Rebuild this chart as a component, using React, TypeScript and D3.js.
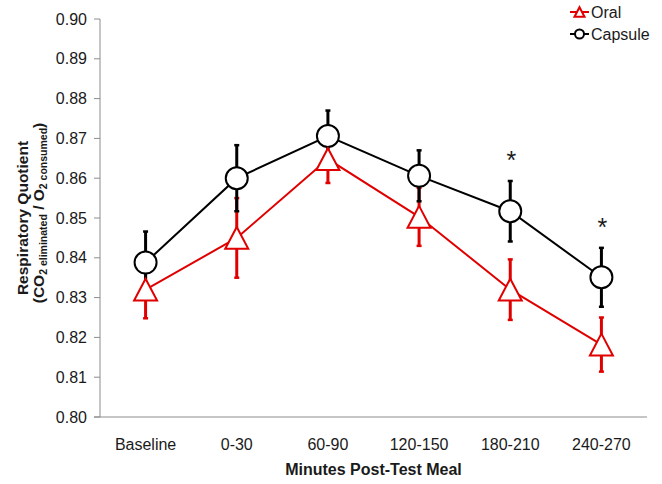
import React from "react";
import * as d3 from "d3";

const categories = ["Baseline", "0-30", "60-90", "120-150", "180-210", "240-270"];
const capsuleValues = [0.8388, 0.8600, 0.8706, 0.8606, 0.8517, 0.8351];
const capsuleErrors = [0.0078, 0.0083, 0.0064, 0.0064, 0.0076, 0.0074];
const oralValues = [0.8320, 0.8450, 0.8648, 0.8503, 0.8320, 0.8182];
const oralErrors = [0.0072, 0.0100, 0.0060, 0.0073, 0.0076, 0.0068];
const significant = [false, false, false, false, true, true];
const yTicks = [0.8, 0.81, 0.82, 0.83, 0.84, 0.85, 0.86, 0.87, 0.88, 0.89, 0.9];

const W = 662, H = 484;
const left = 100, right = 647, top = 19, bottom = 417;
const FONT = "Liberation Sans, Arial, sans-serif";
const TXT = "#1a1a1a";

export default function App() {
  const x = d3.scaleBand<string>().domain(categories).range([left, right]);
  const cx = (c: string) => (x(c) as number) + x.bandwidth() / 2;
  const y = d3.scaleLinear().domain([0.8, 0.9]).range([bottom, top]);
  const line = d3.line<number>().x((_, i) => cx(categories[i])).y((v) => y(v));
  const midY = (top + bottom) / 2;

  const triPath = (px: number, py: number, s: number) =>
    `M${px},${py - s * 0.95}L${px + s},${py + s * 0.95}L${px - s},${py + s * 0.95}Z`;

  const errBar = (px: number, v: number, e: number, color: string, key: string) => (
    <g key={key} stroke={color}>
      <line x1={px} x2={px} y1={y(v + e)} y2={y(v - e)} strokeWidth={3} />
      <line x1={px - 2.5} x2={px + 2.5} y1={y(v + e)} y2={y(v + e)} strokeWidth={2.5} />
      <line x1={px - 2.5} x2={px + 2.5} y1={y(v - e)} y2={y(v - e)} strokeWidth={2.5} />
    </g>
  );

  return (
    <svg width={W} height={H} style={{ position: "absolute", left: 0, top: 0, background: "#fff" }} fontFamily={FONT}>
      <rect width={W} height={H} fill="#fff" />
      {/* axes */}
      <line x1={left} x2={left} y1={top} y2={bottom} stroke="#8c8c8c" strokeWidth={1} />
      <line x1={94} x2={right} y1={bottom} y2={bottom} stroke="#8c8c8c" strokeWidth={1} />
      {yTicks.map((t) => (
        <g key={t}>
          <line x1={94} x2={left} y1={y(t)} y2={y(t)} stroke="#8c8c8c" />
          <text x={87} y={y(t)} dy="0.35em" textAnchor="end" fontSize={16} fill={TXT}>
            {d3.format(".2f")(t)}
          </text>
        </g>
      ))}
      {categories.map((c) => (
        <text key={c} x={cx(c)} y={450} textAnchor="middle" fontSize={16} fill={TXT}>{c}</text>
      ))}
      <text x={(left + right) / 2} y={475} textAnchor="middle" fontSize={16} fontWeight="bold" fill={TXT}>
        Minutes Post-Test Meal
      </text>
      <text transform={`translate(28,${midY}) rotate(-90)`} textAnchor="middle" fontSize={15.5} fontWeight="bold" fill={TXT}>
        Respiratory Quotient
      </text>
      <text transform={`translate(44,${midY - 5}) rotate(-90)`} textAnchor="middle" fontSize={15.5} fontWeight="bold" fill={TXT}>
        (CO<tspan fontSize={10.5} dy={3}>2 eliminated</tspan><tspan dy={-3}> / O</tspan><tspan fontSize={10.5} dy={3}>2 consumed</tspan><tspan dy={-3}>)</tspan>
      </text>

      {/* error bars: oral first, then capsule */}
      {oralValues.map((v, i) => errBar(cx(categories[i]), v, oralErrors[i], "#e00000", "oe" + i))}
      {capsuleValues.map((v, i) => errBar(cx(categories[i]), v, capsuleErrors[i], "#000", "ce" + i))}

      {/* Capsule series */}
      <path d={line(capsuleValues) || ""} fill="none" stroke="#000" strokeWidth={2} />
      {capsuleValues.map((v, i) => (
        <circle key={"cm" + i} cx={cx(categories[i])} cy={y(v)} r={11} fill="#fff" stroke="#000" strokeWidth={2} />
      ))}
      {capsuleValues.map((v, i) =>
        significant[i] ? (
          <text key={"s" + i} x={cx(categories[i]) + 1} y={y(v + capsuleErrors[i]) - 12} textAnchor="middle" fontSize={25} fill={TXT}>*</text>
        ) : null
      )}

      {/* Oral series */}
      <path d={line(oralValues) || ""} fill="none" stroke="#e00000" strokeWidth={2} />
      {oralValues.map((v, i) => (
        <path key={"om" + i} d={triPath(cx(categories[i]), y(v), 11.5)} fill="#fff" stroke="#e00000" strokeWidth={2} />
      ))}

      {/* legend */}
      <line x1={570} x2={589} y1={12} y2={12} stroke="#e00000" strokeWidth={2} />
      <path d={triPath(579.5, 12, 5)} fill="#fff" stroke="#e00000" strokeWidth={2} />
      <text x={591} y={12} dy="0.35em" fontSize={16} fill={TXT}>Oral</text>
      <line x1={570} x2={589} y1={34} y2={34} stroke="#000" strokeWidth={2} />
      <circle cx={579.5} cy={34} r={4.5} fill="#fff" stroke="#000" strokeWidth={2} />
      <text x={591} y={34} dy="0.35em" fontSize={16} fill={TXT}>Capsule</text>
    </svg>
  );
}
